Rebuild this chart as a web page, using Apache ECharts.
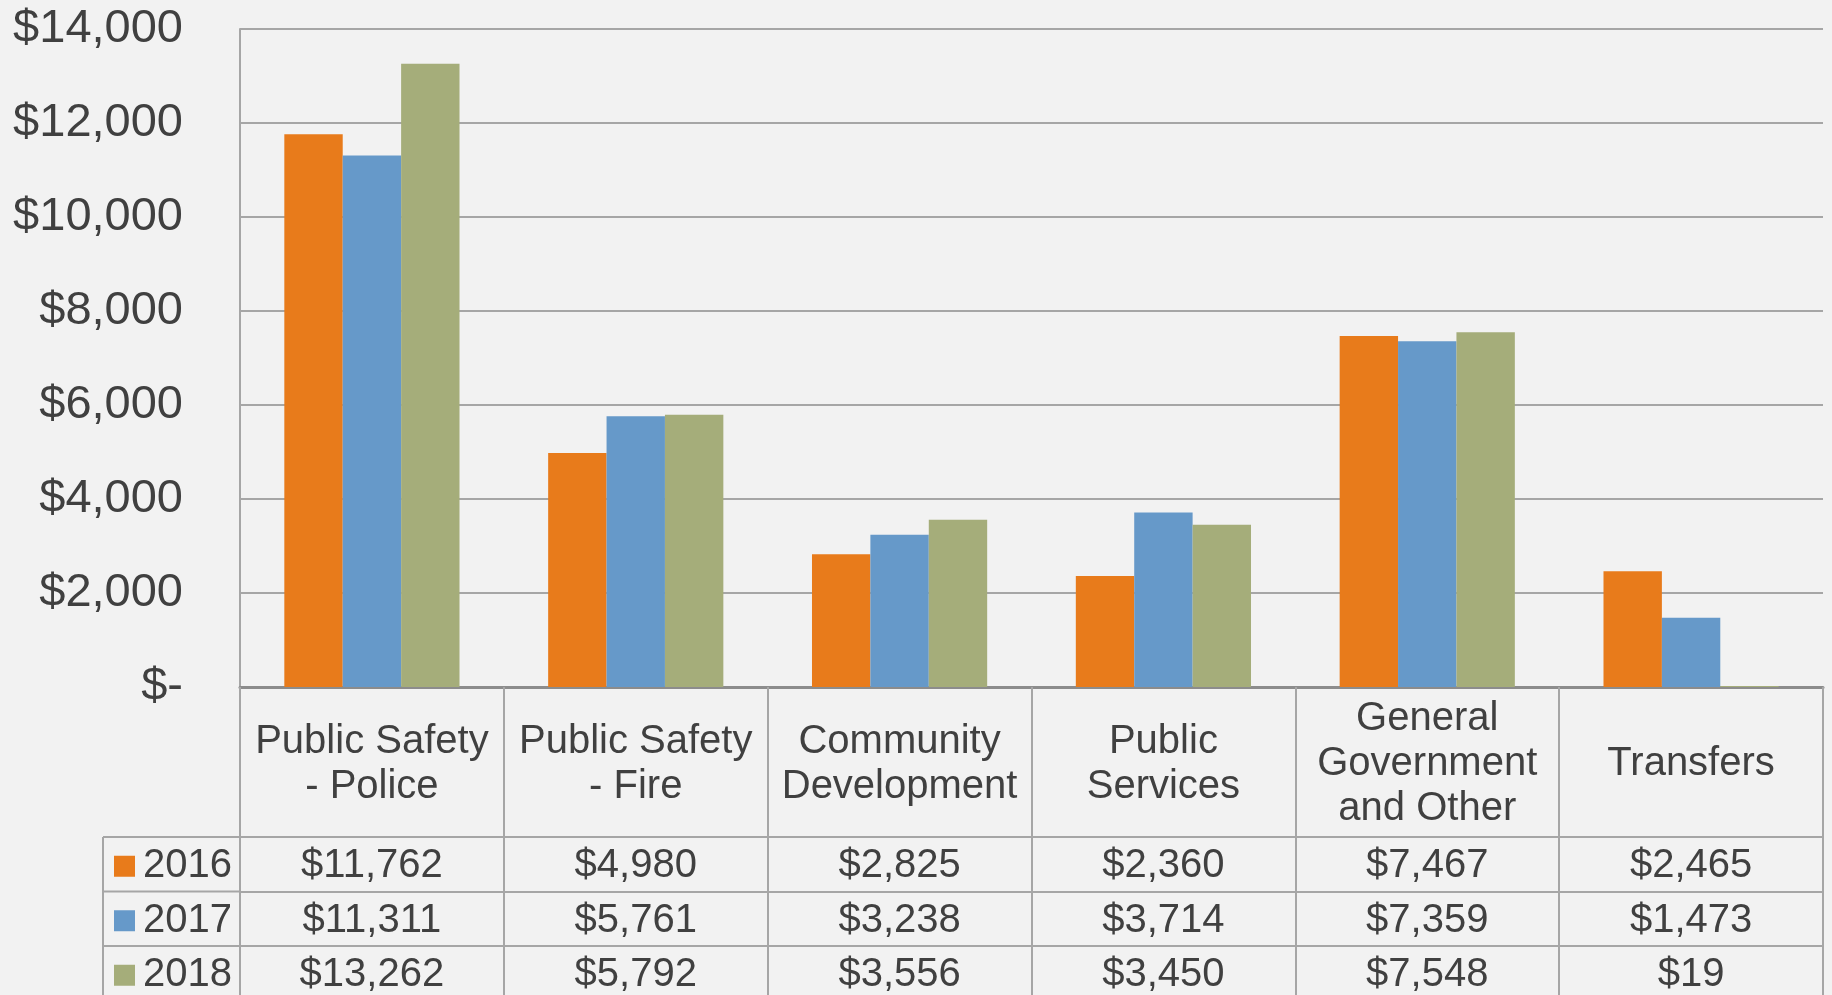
<!DOCTYPE html>
<html>
<head>
<meta charset="utf-8">
<script src="https://cdn.jsdelivr.net/npm/echarts@6/dist/echarts.min.js"></script>
<style>
  html, body { margin: 0; padding: 0; background: #f2f2f2; }
  #chart { width: 1832px; height: 995px; }
</style>
</head>
<body>
<div id="chart"></div>
<script>
// data
const categories = [
  'Public Safety\n- Police',
  'Public Safety\n- Fire',
  'Community\nDevelopment',
  'Public\nServices',
  'General\nGovernment\nand Other',
  'Transfers'
]
const years = ['2016', '2017', '2018']
const values2016 = [11762, 4980, 2825, 2360, 7467, 2465]
const values2017 = [11311, 5761, 3238, 3714, 7359, 1473]
const values2018 = [13262, 5792, 3556, 3450, 7548, 19]
const yTicks = { min: 0, max: 14000, interval: 2000 }

const colors = ['#e87b1b', '#6699c9', '#a5ad7a']
const textColor = '#404040'
const lineColor = '#a6a6a6'
const font = 'Arial, "Liberation Sans", sans-serif'

// layout
const gridLeft = 240
const gridTop = 29
const gridBottomY = 687
const headerH = 150
const rowH = 54.5
const legendLeft = 103

const rows = [values2016, values2017, values2018]

const money = v => '$' + v.toLocaleString('en-US')

const chart = echarts.init(document.getElementById('chart'))

// x axes for the data table rows
const tableAxes = rows.map((row, i) => ({
  type: 'category',
  gridIndex: 0,
  position: 'bottom',
  offset: headerH + rowH * i,
  data: categories,
  axisLine: { show: true, lineStyle: { color: lineColor, width: 2 } },
  axisTick: { show: false },
  axisLabel: {
    interval: 0,
    margin: 29,
    verticalAlign: 'middle',
    fontSize: 40,
    color: textColor,
    fontFamily: font,
    formatter: (v, idx) => money(row[idx])
  }
}))

// one legend per table row
const legends = years.map((y, i) => ({
  data: [y],
  orient: 'vertical',
  left: 114,
  top: gridBottomY + headerH + rowH * i + 2,
  padding: 0,
  itemWidth: 21,
  itemHeight: 21,
  icon: 'rect',
  selectedMode: false,
  textStyle: { fontSize: 40, color: textColor, fontFamily: font, lineHeight: rowH, padding: [0, 0, 0, 3] }
}))

const option = {
  backgroundColor: '#f2f2f2',
  animation: false,
  grid: {
    left: gridLeft,
    right: 9,
    top: gridTop,
    bottom: 995 - gridBottomY
  },
  legend: legends,
  xAxis: [
    {
      type: 'category',
      data: categories,
      axisLine: { show: true, lineStyle: { color: '#8c8c8c', width: 3 } },
      axisTick: { show: true, length: 308, interval: 0, lineStyle: { color: lineColor, width: 2 } },
      axisLabel: {
        interval: 0,
        margin: 77,
        verticalAlign: 'middle',
        fontSize: 40,
        lineHeight: 45,
        color: textColor,
        fontFamily: font
      }
    },
    ...tableAxes
  ],
  yAxis: {
    type: 'value',
    min: yTicks.min,
    max: yTicks.max,
    interval: yTicks.interval,
    axisLine: { show: true, lineStyle: { color: lineColor, width: 2 } },
    axisTick: { show: false },
    splitLine: { lineStyle: { color: lineColor, width: 2 } },
    axisLabel: {
      margin: 57,
      fontSize: 47,
      color: textColor,
      fontFamily: font,
      formatter: v => v === 0 ? '$-' : money(v)
    }
  },
  series: years.map((y, i) => ({
    name: y,
    type: 'bar',
    data: rows[i],
    itemStyle: { color: colors[i] },
    barGap: '0%',
    barCategoryGap: '33.6%'
  })),
  graphic: [
    // legend column borders
    ...[0, 1, 2].map(i => ({
      type: 'line',
      shape: {
        x1: legendLeft, y1: gridBottomY + headerH + rowH * i,
        x2: gridLeft, y2: gridBottomY + headerH + rowH * i
      },
      style: { stroke: lineColor, lineWidth: 2 }
    })),
    {
      type: 'line',
      shape: { x1: legendLeft, y1: gridBottomY + headerH, x2: legendLeft, y2: 995 },
      style: { stroke: lineColor, lineWidth: 2 }
    }
  ]
}

chart.setOption(option)
</script>
</body>
</html>
